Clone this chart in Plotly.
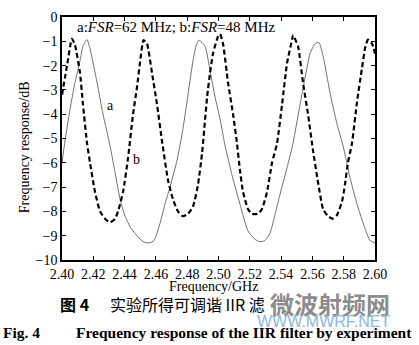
import plotly.graph_objects as go

# Measured response of the tunable IIR filter
# Curve a: FSR = 62 MHz (thin solid)
freq_a = [2.4000, 2.4019, 2.4051, 2.4083, 2.4115, 2.4134, 2.4160, 2.4179, 2.4224, 2.4262,
          2.4307, 2.4339, 2.4371, 2.4403, 2.4441, 2.4479, 2.4518, 2.4556, 2.4588, 2.4626,
          2.4658, 2.4690, 2.4735, 2.4773, 2.4805, 2.4837, 2.4856, 2.4875, 2.4914, 2.4946,
          2.4978, 2.5010, 2.5042, 2.5086, 2.5137, 2.5188, 2.5233, 2.5265, 2.5297, 2.5329,
          2.5393, 2.5438, 2.5476, 2.5521, 2.5559, 2.5585, 2.5617, 2.5642, 2.5668, 2.5712,
          2.5757, 2.5796, 2.5840, 2.5885, 2.5936, 2.5968, 2.6000]
resp_a = [-6.0, -5.1, -3.8, -2.7, -1.8, -1.2, -0.93, -1.3, -2.7, -4.0,
          -5.3, -6.4, -7.5, -8.2, -8.7, -9.0, -9.25, -9.3, -9.2, -8.5,
          -7.7, -7.0, -5.9, -4.6, -3.2, -1.8, -1.2, -0.95, -1.2, -2.2,
          -3.3, -4.2, -5.3, -6.5, -7.7, -8.8, -9.15, -9.25, -9.2, -8.9,
          -7.3, -6.2, -5.2, -3.6, -2.3, -1.5, -1.1, -1.05, -1.6, -3.1,
          -4.4, -5.3, -6.6, -7.7, -8.7, -9.2, -9.3]

# Curve b: FSR = 48 MHz (thick dashed)
freq_b = [2.4000, 2.4032, 2.4058, 2.4064, 2.4083, 2.4115, 2.4134, 2.4160, 2.4179, 2.4211,
          2.4243, 2.4275, 2.4307, 2.4339, 2.4358, 2.4390, 2.4422, 2.4454, 2.4479, 2.4498,
          2.4521, 2.4543, 2.4575, 2.4607, 2.4639, 2.4677, 2.4709, 2.4741, 2.4773, 2.4805,
          2.4837, 2.4869, 2.4895, 2.4927, 2.4946, 2.4965, 2.4997, 2.5010, 2.5029, 2.5061,
          2.5093, 2.5118, 2.5137, 2.5157, 2.5188, 2.5214, 2.5252, 2.5278, 2.5310, 2.5342,
          2.5374, 2.5406, 2.5438, 2.5470, 2.5476, 2.5508, 2.5540, 2.5572, 2.5604, 2.5636,
          2.5668, 2.5700, 2.5732, 2.5757, 2.5789, 2.5808, 2.5827, 2.5853, 2.5885, 2.5917,
          2.5936, 2.5955, 2.5981, 2.6000]
resp_b = [-3.2, -2.0, -1.0, -0.9, -1.15, -2.3, -3.6, -5.2, -6.0, -7.2,
          -8.0, -8.3, -8.45, -8.3, -8.0, -7.2, -5.8, -4.0, -2.9, -1.9,
          -0.95, -1.1, -2.3, -3.6, -5.1, -6.7, -7.5, -8.0, -8.2, -8.1,
          -7.8, -6.9, -5.6, -3.3, -2.3, -1.5, -0.8, -0.7, -1.1, -2.7,
          -4.0, -5.2, -6.3, -7.2, -7.9, -8.1, -8.1, -7.9, -7.2, -6.0,
          -5.2, -3.6, -1.9, -0.93, -0.75, -1.2, -2.7, -4.0, -5.5, -6.8,
          -7.9, -8.2, -8.3, -8.15, -7.6, -6.9, -6.0, -5.2, -3.5, -2.1,
          -1.3, -0.93, -1.1, -1.5]

x_ticks = [2.40, 2.42, 2.44, 2.46, 2.48, 2.50, 2.52, 2.54, 2.56, 2.58, 2.60]
y_ticks = [0, -1, -2, -3, -4, -5, -6, -7, -8, -9, -10]

W, H = 419, 345
L, R, T, B = 62, 375, 10, 260  # plot box in pixels


def px(x):
    return (x - L) / (R - L)


def py(y):
    return (B - y) / (B - T)


SERIF = "Liberation Serif"
CJK = "Noto Sans CJK SC"

fig = go.Figure()
fig.add_trace(go.Scatter(x=freq_a, y=resp_a, mode="lines",
                         line=dict(color="#707070", width=1, shape="spline", smoothing=0.5),
                         showlegend=False))
fig.add_trace(go.Scatter(x=freq_b, y=resp_b, mode="lines",
                         line=dict(color="black", width=2.2, dash="5px,3px",
                                   shape="spline", smoothing=0.5),
                         showlegend=False))

axis_common = dict(showgrid=False, zeroline=False, showline=True, linecolor="black",
                   linewidth=1.5, mirror="ticks", ticks="inside", ticklen=4,
                   tickcolor="black", tickwidth=1,
                   tickfont=dict(family=SERIF, size=14, color="black"))

fig.update_xaxes(range=[2.40, 2.60], tickvals=x_ticks, tickformat=".2f", **axis_common)
fig.update_yaxes(range=[-10, 0], tickvals=y_ticks, **axis_common)


def label(x, y, text, size, family=SERIF, color="black", angle=0):
    return dict(x=px(x), y=py(y), text=text, xref="paper", yref="paper",
                xanchor="center", yanchor="middle", showarrow=False, textangle=angle,
                font=dict(family=family, size=size, color=color))


annotations = [
    label(176, 20, "a:<i>FSR</i>=62 MHz; b:<i>FSR</i>=48 MHz", 15),
    label(110, 101, "a", 14),
    label(136, 157, "b", 14),
    label(24, 144, "Frequency response/dB", 14, angle=-90),
    label(213, 287, "Frequency/GHz", 14),
    label(74, 305, "<b>图 4</b>", 16, family=CJK),
    label(187, 305, "实验所得可调谐 IIR 滤", 16, family=CJK),
    label(330, 305, "<b>微波射频网</b>", 24, family=CJK, color="#8c8c8c"),
    label(324, 323, "WWW.MWRF.NET", 16, family="Liberation Sans", color="#8ab8dc"),
    label(21, 335, "<b>Fig. 4</b>", 15.5),
    label(244, 335, "<b>Frequency response of the IIR filter by experiment</b>", 15.5),
]

fig.update_layout(width=W, height=H, margin=dict(l=L, r=W - R, t=T, b=H - B),
                  paper_bgcolor="white", plot_bgcolor="white", annotations=annotations)

fig.write_html("out.html")
